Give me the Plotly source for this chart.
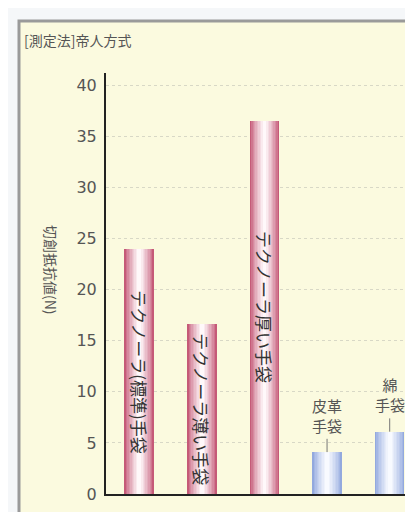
import plotly.graph_objects as go

categories = ["テクノーラ(標準)手袋", "テクノーラ薄い手袋", "テクノーラ厚い手袋", "皮革手袋", "綿手袋"]
values = [24.0, 16.6, 36.5, 4.1, 6.1]
inside_labels = ["テクノーラ(標準)手袋", "テクノーラ薄い手袋", "テクノーラ厚い手袋"]
above_labels = ["皮革<br>手袋", "綿<br>手袋"]
yticks = [0, 5, 10, 15, 20, 25, 30, 35, 40]
title_text = "[測定法]帝人方式"
ytitle_text = "切創抵抗値(N)"

# plot-area geometry (pixels) used to convert pixel offsets to paper coords
W, H = 413, 512
ML, MR, MT, MB = 98, 0, 65, 26
PW, PH = W - ML - MR, H - MT - MB


def px(x):
    return (x - ML) / PW


def py(y):
    return (H - MB - y) / PH


def mix(c1, c2, t):
    a = [int(c1[i:i + 2], 16) for i in (1, 3, 5)]
    b = [int(c2[i:i + 2], 16) for i in (1, 3, 5)]
    return "#" + "".join(f"{round(a[k] + (b[k] - a[k]) * t):02x}" for k in range(3))


pink_edge, pink_center = "#C55A78", "#FFF8FA"
blue_edge, blue_center = "#93A9DE", "#F8FAFF"
n_layers = 10
max_w, min_w = 0.47, 0.06

xs = list(range(len(categories)))
n_pink = len(inside_labels)

fig = go.Figure()
for i in range(n_layers):
    t = i / (n_layers - 1)
    w = max_w - (max_w - min_w) * t
    tc = t ** 0.8
    colors = [mix(pink_edge, pink_center, tc)] * n_pink + \
             [mix(blue_edge, blue_center, tc)] * (len(categories) - n_pink)
    fig.add_trace(go.Bar(
        x=xs, y=values, width=w,
        marker=dict(color=colors, line=dict(width=0)),
        hoverinfo="skip", showlegend=False,
    ))

# connector ticks for the blue bars
fig.add_trace(go.Scatter(
    x=xs[n_pink:], y=values[n_pink:], mode="markers",
    marker=dict(size=0.1, color="rgba(0,0,0,0)"),
    error_y=dict(type="data", symmetric=False, array=[1.3] * len(above_labels),
                 arrayminus=[0] * len(above_labels), thickness=1, width=0, color="#777"),
    showlegend=False, hoverinfo="skip",
))

annotations = []
for i, lab in enumerate(inside_labels):
    annotations.append(dict(
        x=xs[i], y=values[i] / 2, xref="x", yref="y", text=lab, showarrow=False,
        textangle=90, font=dict(size=17, color="#333", family="Noto Sans CJK JP"),
    ))
for j, lab in enumerate(above_labels):
    k = n_pink + j
    annotations.append(dict(
        x=xs[k], y=values[k] + 1.4, xref="x", yref="y", text=lab, showarrow=False,
        yanchor="bottom", font=dict(size=15, color="#555", family="Noto Sans CJK JP"),
    ))
annotations.append(dict(
    x=px(14), y=py(32), xref="paper", yref="paper", xanchor="left", yanchor="middle",
    text=title_text, showarrow=False, font=dict(size=14, color="#555", family="Noto Sans CJK JP"),
))
annotations.append(dict(
    x=px(31), y=py(262), xref="paper", yref="paper", text=ytitle_text, showarrow=False,
    textangle=90, font=dict(size=14, color="#555", family="Noto Sans CJK JP"),
))

fig.update_layout(
    width=W, height=H,
    margin=dict(l=ML, r=MR, t=MT, b=MB),
    paper_bgcolor="#F5F7F9",
    plot_bgcolor="rgba(0,0,0,0)",
    barmode="overlay",
    bargap=0,
    annotations=annotations,
    shapes=[
        dict(type="rect", xref="paper", yref="paper", x0=px(11), x1=px(430), y0=py(530), y1=py(13),
             line=dict(color="#9a9a9a", width=3), fillcolor="#FBFADF", layer="below"),
    ],
    xaxis=dict(range=[-0.53, 4.5], showticklabels=False, showgrid=False, zeroline=False,
               showline=True, linecolor="#222", linewidth=2, ticks=""),
    yaxis=dict(range=[0, 41.2], tickvals=yticks, showgrid=True, gridcolor="#D8D8C6",
               griddash="dot", gridwidth=1, zeroline=False, showline=True, linecolor="#222",
               linewidth=2, ticks="", tickfont=dict(size=16, color="#555", family="DejaVu Sans"),
               ticklabelstandoff=4),
    font=dict(family="Noto Sans CJK JP"),
)

fig.write_html("out.html")
